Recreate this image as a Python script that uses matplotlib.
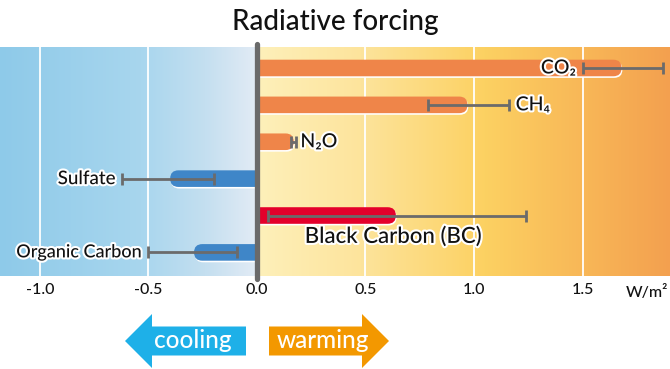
import numpy as np
import matplotlib.pyplot as plt
from matplotlib.patches import FancyBboxPatch, Rectangle, Polygon
from matplotlib.colors import LinearSegmentedColormap
from matplotlib.transforms import offset_copy
import matplotlib.patheffects as pe

plt.rcParams['font.family'] = ['Lato', 'DejaVu Sans']
plt.rcParams['font.weight'] = 'medium'

# Datos (W/m2)
etiquetas = ['CO₂', 'CH₄', 'N₂O', 'Sulfate', 'Black Carbon (BC)', 'Organic Carbon']
valores = [1.68, 0.97, 0.17, -0.40, 0.64, -0.29]
err_bajo = [1.50, 0.79, 0.155, -0.62, 0.05, -0.50]
err_alto = [1.87, 1.16, 0.18, -0.20, 1.24, -0.09]
colores = ['#ef8549', '#ef8549', '#ef8549', '#3f86c8', '#e4002b', '#3f86c8']
ticks = [-1.0, -0.5, 0.0, 0.5, 1.0, 1.5]
posiciones = np.arange(len(valores))

W, H = 670, 369
fig = plt.figure(figsize=(W / 100, H / 100), dpi=100)
ax = fig.add_axes([0, 1 - 276 / H, 1, (276 - 47) / H])

xmin, xmax = -1.184, 1.903
ytop, ybot = -0.569, 5.64

# fondo degradado
grad = np.linspace(0, 1, 256).reshape(1, -1)
cmap_frio = LinearSegmentedColormap.from_list(
    'frio', [(0, '#8ecae9'), (0.55, '#a8d6ee'), (0.8, '#c4dff0'), (1, '#e2ebf5')])
cmap_calor = LinearSegmentedColormap.from_list(
    'calor', [(0, '#fef0ba'), (0.25, '#fde49c'), (0.55, '#fcd162'), (0.8, '#f8b657'), (1, '#f3a04f')])
ax.imshow(grad, cmap=cmap_frio, extent=[xmin, 0, ybot, ytop], aspect='auto', zorder=0)
ax.imshow(grad, cmap=cmap_calor, extent=[0, xmax, ybot, ytop], aspect='auto', zorder=0)

for t in ticks:
    if t != 0:
        ax.axvline(t, color='white', lw=1.3, zorder=1)

# barras redondeadas
px_x = W / (xmax - xmin)
px_y = (276 - 47) / (ybot - ytop)
asp = px_x / px_y
alto = 0.45
r = alto / 2 / asp
sombra = offset_copy(ax.transData, fig=fig, x=0.8, y=-1.6, units='dots')

for i, v in enumerate(valores):
    y = posiciones[i]
    if v > 0:
        x0, w = -2 * r, v + 2 * r
        clip = (0, v + 0.03)
    else:
        x0, w = v, -v + 2 * r
        clip = (v - 0.03, 0)
    for col, tr, z in [('white', sombra, 2), (colores[i], ax.transData, 3)]:
        p = FancyBboxPatch((x0, y - alto / 2), w, alto,
                           boxstyle=f'round,pad=0,rounding_size={r}',
                           mutation_aspect=asp, fc=col, ec='none',
                           transform=tr, zorder=z)
        ax.add_patch(p)
        rect = Rectangle((clip[0], y - 1), clip[1] - clip[0], 2, transform=ax.transData)
        p.set_clip_path(rect)

xerr = [np.array(valores) - np.array(err_bajo), np.array(err_alto) - np.array(valores)]
ax.errorbar(valores, posiciones, xerr=xerr, fmt='none', ecolor='#6b6b6b',
            elinewidth=2, capsize=4, capthick=2, zorder=4)

ax.axvline(0, ymin=-0.012, ymax=1.012, color='#6a6a6a', lw=3.8,
           solid_capstyle='round', clip_on=False, zorder=5)

# etiquetas
borde = [pe.withStroke(linewidth=3, foreground='white')]
txt = dict(color='#111111', va='center', path_effects=borde, zorder=6)
ax.text(err_bajo[0] - 0.03, posiciones[0], etiquetas[0], ha='right', fontsize=14, **txt)
ax.text(err_alto[1] + 0.032, posiciones[1], etiquetas[1], ha='left', fontsize=14, **txt)
ax.text(err_alto[2] + 0.02, posiciones[2], etiquetas[2], ha='left', fontsize=14, **txt)
ax.text(err_bajo[3] - 0.032, posiciones[3], etiquetas[3], ha='right', fontsize=13.5, **txt)
ax.text(0.22, posiciones[4] + 0.58, etiquetas[4], ha='left', fontsize=16, **txt)
ax.text(err_bajo[5] - 0.032, posiciones[5], etiquetas[5], ha='right', fontsize=13, **txt)

ax.set_xlim(xmin, xmax)
ax.set_ylim(ybot, ytop)
ax.set_xticks(ticks, labels=[f'{t:.1f}' for t in ticks])
ax.set_yticks([])
ax.tick_params(axis='x', length=0, pad=5, labelsize=11.5, labelcolor='#111111')
for s in ax.spines.values():
    s.set_visible(False)

fig.text(668 / W, 1 - 297 / H, 'W/m²', ha='right', va='baseline', fontsize=11.5, color='#111111')
fig.text(0.5, 1 - 30 / H, 'Radiative forcing', ha='center', va='baseline',
         fontsize=20, color='#111111')

# flechas
def flecha(pts, color):
    fig.add_artist(Polygon([(x / W, 1 - y / H) for x, y in pts], closed=True,
                           fc=color, ec='none', transform=fig.transFigure))

flecha([(125, 341), (152, 314), (152, 326.5), (246, 326.5), (246, 355.5),
        (152, 355.5), (152, 368)], '#1eb0e8')
flecha([(389, 341), (362, 314), (362, 326.5), (269, 326.5), (269, 355.5),
        (362, 355.5), (362, 368)], '#f39800')
fig.text(193 / W, 1 - 348 / H, 'cooling', ha='center', va='baseline', fontsize=17.5, color='white')
fig.text(323 / W, 1 - 348 / H, 'warming', ha='center', va='baseline', fontsize=17.5, color='white')

fig.savefig('out.png', dpi=100)
